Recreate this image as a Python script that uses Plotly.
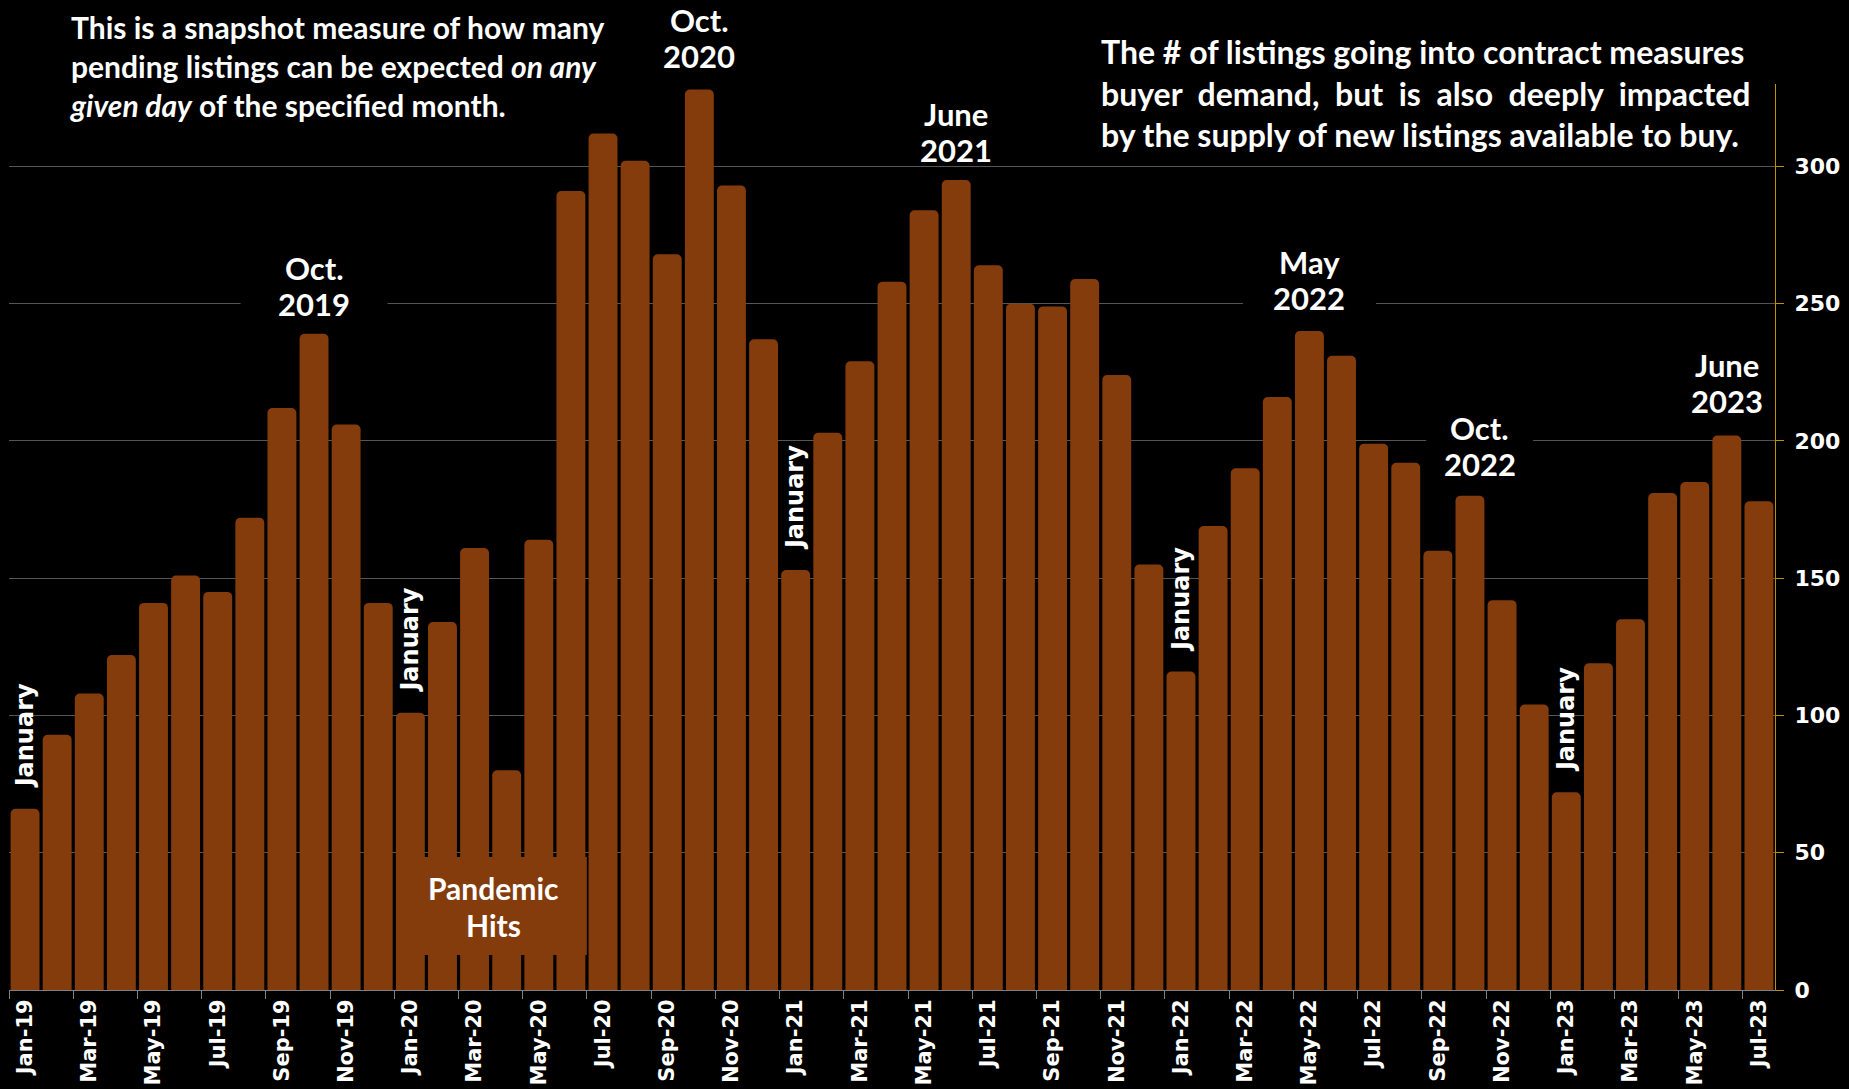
import plotly.graph_objects as go

months = ["Jan", "Feb", "Mar", "Apr", "May", "Jun", "Jul", "Aug", "Sep", "Oct", "Nov", "Dec"]
years = ["19", "20", "21", "22", "23"]
categories = [f"{m}-{y}" for y in years for m in months][:55]

pending = [
    66, 93, 108, 122, 141, 151, 145, 172, 212, 239, 206, 141,
    101, 134, 161, 80, 164, 291, 312, 302, 268, 328, 293, 237,
    153, 203, 229, 258, 284, 295, 264, 250, 249, 259, 224, 155,
    116, 169, 190, 216, 240, 231, 199, 192, 160, 180, 142, 104,
    72, 119, 135, 181, 185, 202, 178,
]

y_ticks = [0, 50, 100, 150, 200, 250, 300]

# (x position in category units, line 1, line 2, centre y in px, box width px, box height px or 0 for none)
peak_labels = [
    (9, "Oct.", "2019", 286, 147, 80),
    (21, "Oct.", "2020", 38, 110, 76),
    (29, "June", "2021", 132, 0, 0),
    (40, "May", "2022", 280, 133, 80),
    (45.3, "Oct.", "2022", 446, 107, 80),
    (53, "June", "2023", 383, 130, 94),
]
january_idx = [0, 12, 24, 36, 48]

BAR = "#843C0C"
x = list(range(len(categories)))

# plot area in pixels: x 9..1775, y 84..990
def px(v):
    return (v - 9) / 1766
def py(v):
    return (990 - v) / 906

fig = go.Figure()
fig.add_trace(go.Bar(
    x=x, y=pending, marker=dict(color=BAR, cornerradius=5, line=dict(width=0)),
    hoverinfo="y",
))

TXT = dict(family="Lato", color="white", size=31, weight="bold")

ann = []
shapes = []
LINE_GAP = 36
for idx, l1, l2, cy, w, h in peak_labels:
    if w:
        shapes.append(dict(type="rect", xref="x", yref="paper", xsizemode="pixel", ysizemode="pixel",
                           xanchor=idx, yanchor=py(cy), x0=-w / 2, x1=w / 2, y0=-h / 2, y1=h / 2,
                           fillcolor="black", line=dict(width=0), layer="above"))
    for txt, off in ((l1, LINE_GAP / 2), (l2, -LINE_GAP / 2)):
        ann.append(dict(x=idx, y=py(cy), xref="x", yref="paper", text=txt, showarrow=False,
                        xanchor="center", yanchor="middle", yshift=off, font=TXT))

for idx in january_idx:
    ann.append(dict(x=idx, y=pending[idx], xref="x", yref="y", text="January",
                    showarrow=False, textangle=-90, xanchor="center", yanchor="bottom",
                    yshift=18, font=dict(family="DejaVu Sans", size=24, color="white", weight="bold")))

# Pandemic Hits box
pc_x, pc_y, pw, ph = 14.6, py(906), 186, 98
shapes.append(dict(type="rect", xref="x", yref="paper", xsizemode="pixel", ysizemode="pixel",
                   xanchor=pc_x, yanchor=pc_y, x0=-pw / 2, x1=pw / 2, y0=-ph / 2, y1=ph / 2,
                   fillcolor=BAR, line=dict(width=0), layer="above"))
for txt, off in (("Pandemic", 18), ("Hits", -19)):
    ann.append(dict(x=pc_x, y=pc_y, xref="x", yref="paper", text=txt, showarrow=False,
                    xanchor="center", yanchor="middle", yshift=off,
                    font=dict(family="Lato", color="white", size=30, weight="bold")))

ann.append(dict(x=px(68), y=py(66), xref="paper", yref="paper", xanchor="left", yanchor="middle",
                align="left", showarrow=False, font=dict(family="Lato", color="white", size=30, weight="bold"),
                text="This is a snapshot measure of how many<br>pending listings can be expected <i>on any</i><br><i>given day</i> of the specified month."))
nb = "\u00a0"
ann.append(dict(x=px(1099), y=py(93), xref="paper", yref="paper", xanchor="left", yanchor="middle",
                align="left", showarrow=False, font=dict(family="Lato", color="white", size=32, weight="bold"),
                text=("The # of listings going into contract measures<br>"
                      f"buyer{nb*2}demand,{nb*2}but{nb*2}is{nb*2}also{nb*2}deeply{nb*2}impacted<br>"
                      "by the supply of new listings available to buy.")))

fig.update_layout(
    width=1849, height=1089,
    paper_bgcolor="black", plot_bgcolor="black",
    margin=dict(l=9, r=74, t=84, b=99),
    bargap=0.1, showlegend=False,
    annotations=ann, shapes=shapes,
)
fig.update_xaxes(
    range=[-0.5, len(categories) - 0.5], automargin=False,
    tickmode="array", tickvals=x[::2], ticktext=categories[::2],
    tickangle=-90, ticks="", showgrid=False, zeroline=False,
    showline=True, linecolor="#808080", linewidth=1,
    tickfont=dict(family="DejaVu Sans", size=21, color="white", weight="bold"),
    minor=dict(tickmode="array", tickvals=[i - 0.5 for i in x[::2]], ticks="outside",
               ticklen=8, tickcolor="#808080", tickwidth=1, showgrid=False),
)
fig.update_yaxes(
    side="right", range=[0, 330], tickmode="array", tickvals=y_ticks, automargin=False,
    showgrid=True, gridcolor="#555555", gridwidth=1, zeroline=False,
    showline=True, linecolor="#BF9000", linewidth=1,
    ticks="outside", ticklen=8, tickcolor="#BF9000",
    ticklabelstandoff=6,
    tickfont=dict(family="DejaVu Sans", size=22, color="white", weight="bold"),
)

fig.write_html("out.html")
